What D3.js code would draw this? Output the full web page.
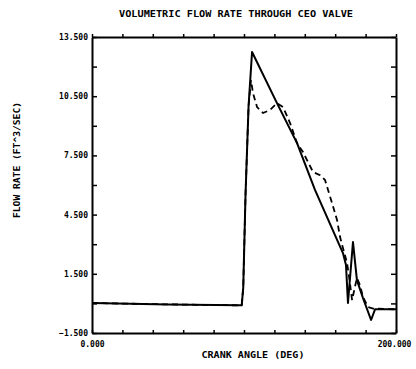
<!DOCTYPE html>
<html>
<head>
<meta charset="utf-8">
<script src="https://cdn.jsdelivr.net/npm/d3@7"></script>
<style>
  body { margin: 0; background: #fff; }
  svg { display: block; }
  text { font-family: "DejaVu Sans Mono", "Liberation Mono", monospace; font-weight: bold; fill: #000; }
</style>
</head>
<body>
<svg id="chart" width="416" height="369"></svg>
<script>
// Labels
const titleText = "VOLUMETRIC FLOW RATE THROUGH CEO VALVE";
const xTitle = "CRANK ANGLE (DEG)";
const yTitle = "FLOW RATE (FT^3/SEC)";

// Axis ranges and ticks
const xDomain = [0, 200];
const yDomain = [-1.5, 13.5];
const xTickValues = [0, 20, 40, 60, 80, 100, 120, 140, 160, 180, 200];
const xTickLabels = [0, 200];
const yTickValues = [-1.5, 0, 1.5, 3, 4.5, 6, 7.5, 9, 10.5, 12, 13.5];
const yTickLabels = [-1.5, 1.5, 4.5, 7.5, 10.5, 13.5];

// Solid curve: crank angle (deg) and flow rate (ft^3/sec)
const solidAngle = [0, 50, 97, 98.5, 99.5, 101, 103, 105.3, 121.7, 134.9, 146.7, 165.1, 167.1, 168.4, 171.7, 174.3, 178.3, 183.6, 186.2, 200];
const solidFlow  = [0.02, -0.05, -0.1, -0.1, 0.8, 5.5, 10, 12.74, 10.15, 8.12, 5.75, 2.55, 1.94, 0.02, 3.11, 1.18, 0.27, -0.84, -0.3, -0.3];

// Dashed curve
const dashedAngle = [0, 50, 97, 98.5, 99.5, 101, 103, 104.6, 105.9, 108.6, 112.5, 117.1, 121.7, 125.7, 130.3, 134.9, 138.8, 145.4, 150, 153.3, 155.3, 157.9, 161.2, 163.2, 165.1, 167.8, 169.7, 171.1, 174.3, 176.3, 178.3, 181.6, 184.9, 200];
const dashedFlow  = [0.02, -0.05, -0.1, -0.1, 0.8, 5.5, 10, 11.32, 10.66, 9.95, 9.65, 9.8, 10.15, 9.95, 9.14, 8.12, 7.67, 6.66, 6.5, 6.25, 5.75, 5.09, 4.23, 3.36, 2.81, 2.05, 1.03, 0.17, 1.29, 0.93, 0.32, -0.18, -0.26, -0.3];

const svg = d3.select("#chart");
const plotLeft = 92, plotRight = 396, plotTop = 37, plotBottom = 333;

const x = d3.scaleLinear().domain(xDomain).range([plotLeft, plotRight]);
const y = d3.scaleLinear().domain(yDomain).range([plotBottom, plotTop]);

const fmt = d3.format(".3f");

// Axes with inward ticks on all four sides
const gLeft = svg.append("g").attr("transform", `translate(${plotLeft},0)`)
  .call(d3.axisLeft(y).tickValues(yTickValues).tickSizeInner(-5).tickSizeOuter(0).tickPadding(4)
    .tickFormat(d => yTickLabels.includes(d) ? fmt(d) : ""));
const gRight = svg.append("g").attr("transform", `translate(${plotRight},0)`)
  .call(d3.axisRight(y).tickValues(yTickValues).tickSizeInner(-5).tickSizeOuter(0).tickFormat(""));
const gBottom = svg.append("g").attr("transform", `translate(0,${plotBottom})`)
  .call(d3.axisBottom(x).tickValues(xTickValues).tickSizeInner(-3).tickSizeOuter(0).tickPadding(8)
    .tickFormat(d => xTickLabels.includes(d) ? fmt(d) : ""));
const gTop = svg.append("g").attr("transform", `translate(0,${plotTop})`)
  .call(d3.axisTop(x).tickValues(xTickValues).tickSizeInner(3).tickSizeOuter(0).tickFormat(""));

[gLeft, gRight, gBottom, gTop].forEach(g => {
  g.attr("font-family", null).attr("font-size", null);
  g.select(".domain").attr("stroke", "#000").attr("stroke-width", 2);
  g.selectAll(".tick line").attr("stroke", "#000").attr("stroke-width", 1.5);
  g.selectAll(".tick text").attr("font-size", 8);
});
gBottom.selectAll(".tick text").filter(d => d === 200).attr("x", -2);

// Curves
const line = d3.line().x(d => x(d[0])).y(d => y(d[1]));
svg.append("path")
  .datum(solidAngle.map((a, i) => [a, solidFlow[i]]))
  .attr("d", line).attr("fill", "none").attr("stroke", "#000")
  .attr("stroke-width", 2).attr("stroke-linejoin", "round");
svg.append("path")
  .datum(dashedAngle.map((a, i) => [a, dashedFlow[i]]))
  .attr("d", line).attr("fill", "none").attr("stroke", "#000")
  .attr("stroke-width", 1.8).attr("stroke-dasharray", "6,4");

// Titles
svg.append("text").attr("x", 236).attr("y", 17).attr("text-anchor", "middle")
  .attr("font-size", 8).attr("textLength", 234).attr("lengthAdjust", "spacingAndGlyphs")
  .text(titleText);
svg.append("text").attr("x", 253).attr("y", 358).attr("text-anchor", "middle")
  .attr("font-size", 8).attr("textLength", 103).attr("lengthAdjust", "spacingAndGlyphs")
  .text(xTitle);
svg.append("text").attr("transform", "translate(20,160) rotate(-90)").attr("text-anchor", "middle")
  .attr("font-size", 8).attr("textLength", 116).attr("lengthAdjust", "spacingAndGlyphs")
  .text(yTitle);
</script>
</body>
</html>
